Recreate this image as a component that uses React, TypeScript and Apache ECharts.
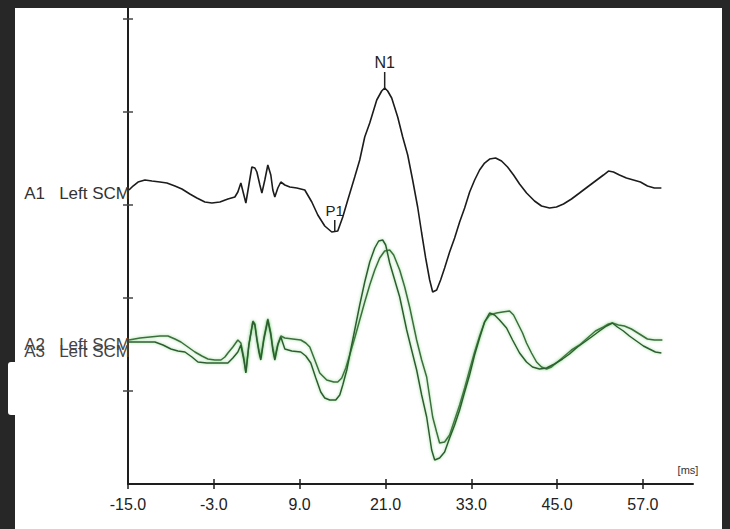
import React, { useEffect, useRef } from "react";
import * as echarts from "echarts";

// x axis (ms) tick labels and y-axis division ticks (amplitude units)
const xTicks = [-15, -3, 9, 21, 33, 45, 57];
const yTicks = [93, 186, 279, 372, 465];
const channelLabels = ["A1   Left SCM", "A2   Left SCM", "A3   Left SCM"];

// A1 Left SCM (black)
const a1Ms = [-14.86, -14.3, -13.6, -12.63, -11.65, -10.53, -9.56, -8.44, -7.46, -6.35,
  -5.37, -4.25, -3.27, -2.15, -1.03, -0.06, 0.36, 0.78, 1.2, 1.48,
  1.9, 2.32, 2.74, 3.02, 3.44, 3.72, 4.13, 4.55, 4.97, 5.25,
  5.53, 5.95, 6.37, 6.93, 7.63, 8.6, 9.72, 10.7, 11.54, 12.51,
  13.49, 14.33, 15.03, 15.73, 16.7, 17.4, 18.1, 18.8, 19.78, 20.47,
  20.89, 21.31, 21.87, 22.71, 23.41, 24.11, 24.8, 25.5, 26.06, 26.62,
  27.18, 27.6, 28.16, 28.71, 29.27, 29.97, 30.67, 31.37, 32.07, 32.77,
  33.47, 34.16, 34.86, 35.56, 36.4, 37.23, 38.07, 38.91, 39.75, 40.73,
  41.84, 42.82, 43.94, 44.91, 45.89, 47.01, 48.13, 49.24, 50.36, 51.48,
  52.18, 52.88, 53.72, 54.69, 55.67, 56.65, 57.63, 58.6, 59.58];
const a1Amp = [294, 298, 302, 304, 303, 302, 301, 298, 295, 290,
  286, 282, 281, 282, 285, 287, 292, 301, 289, 281,
  299, 317, 316, 312, 299, 291, 304, 319, 309, 294,
  287, 296, 302, 299, 297, 296, 294, 282, 269, 258,
  252, 253, 267, 284, 307, 324, 347, 361, 384, 393,
  396, 393, 386, 367, 347, 329, 304, 277, 251, 226,
  204, 192, 194, 204, 216, 232, 246, 262, 276, 292,
  304, 314, 321, 325, 326, 323, 317, 309, 300, 291,
  283, 278, 276, 277, 280, 285, 291, 297, 303, 309,
  313, 312, 309, 306, 304, 302, 298, 296, 296];

// A2 Left SCM (green, later wave)
const a2Ms = [-14.86, -13.32, -11.93, -10.53, -9.41, -8.44, -7.6, -6.62, -5.64, -4.67,
  -3.83, -2.85, -2.01, -1.45, -1.03, -0.34, 0.36, 0.78, 1.2, 1.48,
  1.9, 2.46, 2.74, 3.02, 3.3, 3.57, 3.99, 4.55, 4.97, 5.25,
  5.53, 5.95, 6.37, 6.93, 8.04, 9.16, 9.86, 10.42, 11.12, 11.81,
  12.79, 13.77, 14.33, 14.89, 15.45, 16.0, 16.7, 17.4, 18.1, 18.8,
  19.5, 20.19, 20.89, 21.59, 22.15, 22.99, 23.69, 24.38, 25.36, 26.06,
  26.76, 27.18, 27.6, 28.15, 28.57, 29.27, 29.97, 30.67, 31.37, 32.07,
  32.76, 33.46, 34.16, 34.86, 35.56, 36.54, 37.37, 38.35, 38.91, 39.47,
  40.17, 40.72, 41.42, 42.12, 42.82, 43.52, 44.22, 45.05, 46.03, 47.01,
  48.13, 49.24, 50.36, 51.48, 52.18, 52.74, 53.57, 54.41, 55.39, 56.51,
  57.62, 58.6, 59.72];
const a2Amp = [144, 146, 147, 148, 148, 145, 142, 137, 132, 128,
  125, 124, 124, 127, 131, 137, 144, 141, 126, 112,
  139, 163, 160, 146, 134, 126, 146, 165, 151, 136,
  126, 140, 148, 146, 145, 144, 141, 137, 124, 111,
  104, 102, 102, 106, 116, 129, 146, 164, 182, 199,
  214, 226, 233, 234, 229, 214, 197, 177, 144, 124,
  107, 87, 67, 52, 41, 42, 49, 64, 79, 96,
  114, 132, 148, 162, 169, 171, 172, 173, 169, 161,
  151, 141, 131, 122, 117, 115, 117, 122, 128, 134,
  139, 146, 153, 157, 160, 161, 159, 158, 155, 150,
  145, 144, 144];

// A3 Left SCM (green, earlier wave)
const a3Ms = [-14.86, -13.32, -11.23, -10.11, -9.0, -8.02, -7.04, -6.06, -5.22, -3.97,
  -2.85, -1.87, -1.03, -0.34, 0.36, 0.78, 1.2, 1.48, 1.9, 2.46,
  2.74, 3.02, 3.3, 3.57, 3.99, 4.55, 4.97, 5.25, 5.53, 5.95,
  6.37, 6.93, 7.9, 9.16, 9.86, 10.56, 11.26, 11.95, 12.51, 13.21,
  14.05, 14.61, 15.03, 15.59, 16.14, 16.7, 17.4, 18.1, 18.8, 19.5,
  20.05, 20.61, 21.03, 21.59, 22.29, 22.99, 23.97, 24.66, 25.36, 26.06,
  26.76, 27.46, 27.88, 28.57, 29.27, 29.97, 30.67, 31.37, 32.07, 32.76,
  33.46, 34.16, 34.86, 35.56, 36.26, 36.95, 37.93, 38.77, 39.75, 40.72,
  41.56, 42.54, 43.52, 44.63, 45.75, 46.73, 47.85, 48.83, 49.8, 50.92,
  51.9, 52.74, 53.43, 54.27, 55.11, 56.09, 57.07, 57.9, 58.74, 59.58];
const a3Amp = [142, 142, 142, 139, 135, 133, 132, 127, 122, 121,
  121, 121, 121, 126, 132, 139, 124, 111, 139, 162,
  159, 144, 132, 124, 144, 164, 149, 134, 124, 139,
  147, 135, 133, 132, 128, 121, 106, 92, 86, 84,
  84, 89, 99, 114, 134, 154, 179, 202, 222, 236,
  243, 244, 239, 221, 204, 187, 154, 134, 114, 89,
  67, 34, 24, 26, 32, 46, 59, 74, 92, 109,
  129, 146, 162, 171, 169, 164, 156, 144, 131, 122,
  117, 115, 116, 120, 125, 130, 137, 142, 147, 153,
  158, 161, 157, 153, 148, 143, 138, 135, 132, 131];

// peak markers on A1
const peakNames = ["N1", "P1"];
const peakMs = [20.89, 13.91];
const peakAmp = [396, 252];

const zip = (xs: number[], ys: number[]) => xs.map((x, i) => [x, ys[i]]);

export default function App() {
  const ref = useRef<HTMLDivElement>(null);

  useEffect(() => {
    document.body.style.margin = "0";
    if (!ref.current) return;
    const chart = echarts.init(ref.current, null, { renderer: "svg" });
    const font = "Arial, 'Liberation Sans', sans-serif";
    const axisColor = "#1e1e1e";
    const greenShadow = { shadowColor: "rgba(80,190,80,0.6)", shadowBlur: 3 };

    chart.setOption({
      animation: false,
      backgroundColor: "#ffffff",
      grid: { left: 113, top: 0, right: 29, bottom: 45, containLabel: false },
      xAxis: [
        {
          type: "value",
          min: -15,
          max: 64,
          interval: 12,
          axisLine: { show: true, onZero: false, lineStyle: { color: axisColor, width: 2 } },
          axisTick: { show: true, length: 5, customValues: xTicks, lineStyle: { color: axisColor, width: 1.5 } },
          axisLabel: {
            show: true,
            customValues: xTicks,
            formatter: (v: number) => v.toFixed(1),
            color: "#222",
            fontFamily: font,
            fontSize: 16,
            margin: 12,
          },
          splitLine: { show: false },
        },
        {
          type: "value",
          position: "bottom",
          min: -15,
          max: 64,
          interval: 12,
          axisLine: { show: false, onZero: false },
          axisTick: { show: true, inside: true, length: 5, customValues: xTicks, lineStyle: { color: axisColor, width: 1.5 } },
          axisLabel: { show: false },
          splitLine: { show: false },
        },
      ],
      yAxis: [
        {
          type: "value",
          min: 0,
          max: 476,
          interval: 93,
          axisLine: { show: true, onZero: false, lineStyle: { color: axisColor, width: 2 } },
          axisTick: { show: true, length: 5, customValues: yTicks, lineStyle: { color: "#444", width: 1.5 } },
          axisLabel: { show: false },
          splitLine: { show: false },
        },
        {
          type: "value",
          position: "left",
          min: 0,
          max: 476,
          interval: 93,
          axisLine: { show: false, onZero: false },
          axisTick: { show: true, inside: true, length: 5, customValues: yTicks, lineStyle: { color: "#444", width: 1.5 } },
          axisLabel: { show: false },
          splitLine: { show: false },
        },
      ],
      series: [
        {
          name: "A2",
          type: "line",
          xAxisIndex: 0,
          yAxisIndex: 0,
          showSymbol: false,
          data: zip(a2Ms, a2Amp),
          lineStyle: { color: "#3c6e3c", width: 1.5, ...greenShadow },
          z: 3,
        },
        {
          name: "A3",
          type: "line",
          xAxisIndex: 0,
          yAxisIndex: 0,
          showSymbol: false,
          data: zip(a3Ms, a3Amp),
          lineStyle: { color: "#2f5c30", width: 1.5, ...greenShadow },
          z: 3,
        },
        {
          name: "A1",
          type: "line",
          xAxisIndex: 0,
          yAxisIndex: 0,
          showSymbol: false,
          data: zip(a1Ms, a1Amp),
          lineStyle: { color: "#1c1c1c", width: 1.6 },
          z: 4,
          markPoint: {
            silent: true,
            data: peakNames.map((n, i) => ({
              name: n,
              coord: [peakMs[i], peakAmp[i]],
              symbol: "rect",
              symbolSize: i === 0 ? [1.5, 16] : [1.5, 12],
              symbolOffset: [0, "-50%"],
              itemStyle: { color: "#222" },
              label: {
                show: true,
                position: "top",
                distance: 2,
                formatter: n,
                color: "#222",
                fontFamily: font,
                fontSize: i === 0 ? 16 : 15,
              },
            })),
          },
        },
      ],
      graphic: [
        {
          type: "text",
          x: 115,
          y: 185,
          style: { text: channelLabels[0], fill: "#333", font: `17px ${font}`, align: "right", verticalAlign: "middle" },
          z: 10,
        },
        {
          type: "text",
          x: 115,
          y: 336,
          style: { text: channelLabels[1], fill: "#444", font: `17px ${font}`, align: "right", verticalAlign: "middle" },
          z: 10,
        },
        {
          type: "text",
          x: 115,
          y: 343,
          style: { text: channelLabels[2], fill: "#444", font: `17px ${font}`, align: "right", verticalAlign: "middle" },
          z: 10,
        },
        {
          type: "text",
          x: 673,
          y: 462,
          style: { text: "[ms]", fill: "#333", font: `11px ${font}`, align: "center", verticalAlign: "middle" },
          z: 10,
        },
      ],
    });
    return () => chart.dispose();
  }, []);

  return (
    <div style={{ position: "relative", width: 730, height: 529, background: "#272727", overflow: "hidden" }}>
      <div ref={ref} style={{ position: "absolute", left: 15, top: 8, width: 707, height: 521 }} />
      <div style={{ position: "absolute", left: 8, top: 362, width: 7, height: 53, background: "#fff", borderRadius: "3px 0 0 3px" }} />
    </div>
  );
}
